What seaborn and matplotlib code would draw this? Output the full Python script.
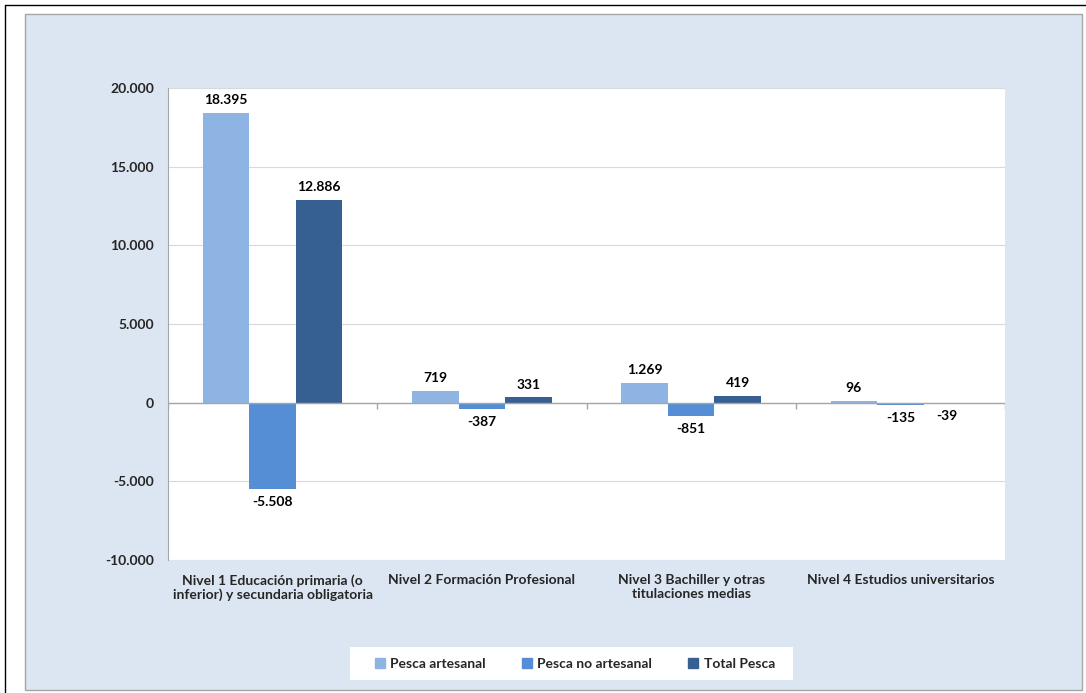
import pandas as pd
import numpy as np
import matplotlib.pyplot as plt
import seaborn as sns
from matplotlib.patches import Rectangle

# datos
niveles = ['Nivel 1 Educación primaria (o\ninferior) y secundaria obligatoria',
           'Nivel 2 Formación Profesional',
           'Nivel 3 Bachiller y otras\ntitulaciones medias',
           'Nivel 4 Estudios universitarios']
series = ['Pesca artesanal', 'Pesca no artesanal', 'Total Pesca']
artesanal = [18395, 719, 1269, 96]
no_artesanal = [-5508, -387, -851, -135]
total = [12886, 331, 419, -39]
colores = ['#8EB4E3', '#558ED5', '#376092']

df = pd.DataFrame({
    'nivel': niveles * 3,
    'serie': [series[0]] * 4 + [series[1]] * 4 + [series[2]] * 4,
    'valor': artesanal + no_artesanal + total,
})

sns.set_style('white')
plt.rcParams['font.family'] = ['Lato', 'DejaVu Sans']
plt.rcParams['font.weight'] = 'bold'
fs = 10

def fmt(v):
    return '{:,.0f}'.format(v).replace(',', '.')

fig = plt.figure(figsize=(10.86, 6.93), dpi=100)
# marco exterior y panel azul
fig.patches.append(Rectangle((25 / 1086, 3 / 693), 1057 / 1086, 676 / 693, transform=fig.transFigure,
                             facecolor='#DCE6F2', edgecolor='#A6A6A6', linewidth=1, zorder=-5))
fig.lines.append(plt.Line2D([5 / 1086, 5 / 1086], [0, 688 / 693], transform=fig.transFigure, color='black', lw=1))
fig.lines.append(plt.Line2D([5 / 1086, 1], [688 / 693, 688 / 693], transform=fig.transFigure, color='black', lw=1))
# caja blanca de la leyenda
fig.patches.append(Rectangle((350 / 1086, 1 - 680 / 693), 443 / 1086, 33 / 693, transform=fig.transFigure,
                             facecolor='white', edgecolor='none', zorder=-4))

ax = fig.add_axes([168 / 1086, 1 - 560 / 693, (1005 - 168) / 1086, (560 - 88) / 693])
ax.set_facecolor('white')
sns.barplot(data=df, x='nivel', y='valor', hue='serie', palette=colores, width=0.667,
            gap=0, saturation=1, ax=ax, legend=False, linewidth=0)

for cont in ax.containers:
    ax.bar_label(cont, labels=[fmt(v) for v in cont.datavalues], padding=5,
                 fontsize=fs, fontweight='bold', color='black')

ax.set_ylim(-10000, 20000)
ax.set_xlim(-0.5, len(niveles) - 0.5)
ax.set_yticks(range(-10000, 20001, 5000))
ax.set_yticklabels([fmt(v) for v in range(-10000, 20001, 5000)], fontsize=fs, fontweight='bold')
ax.set_xticks(range(len(niveles)))
ax.set_xticklabels(niveles, fontsize=fs, fontweight='bold')
ax.set_xlabel('')
ax.set_ylabel('')
ax.grid(axis='y', color='#D9D9D9', lw=0.8)
ax.set_axisbelow(True)
for s in ['top', 'right', 'bottom']:
    ax.spines[s].set_visible(False)
ax.spines['left'].set_color('#A6A6A6')
ax.tick_params(axis='y', length=4, color='#A6A6A6', pad=6)
ax.tick_params(axis='x', length=0, pad=10)
ax.axhline(0, color='#A6A6A6', lw=1)
ax.vlines(np.arange(len(niveles) + 1) - 0.5, -400, 0, color='#A6A6A6', lw=1)

# leyenda
handles = [Rectangle((0, 0), 1, 1, color=c) for c in colores]
fig.legend(handles, series, loc='center', bbox_to_anchor=(575 / 1086, 1 - 664 / 693), ncol=3,
           frameon=False, handlelength=0.7, handleheight=0.7, handletextpad=0.4,
           columnspacing=2.6, prop={'size': fs, 'weight': 'bold'})

fig.savefig('out.png', dpi=100)
